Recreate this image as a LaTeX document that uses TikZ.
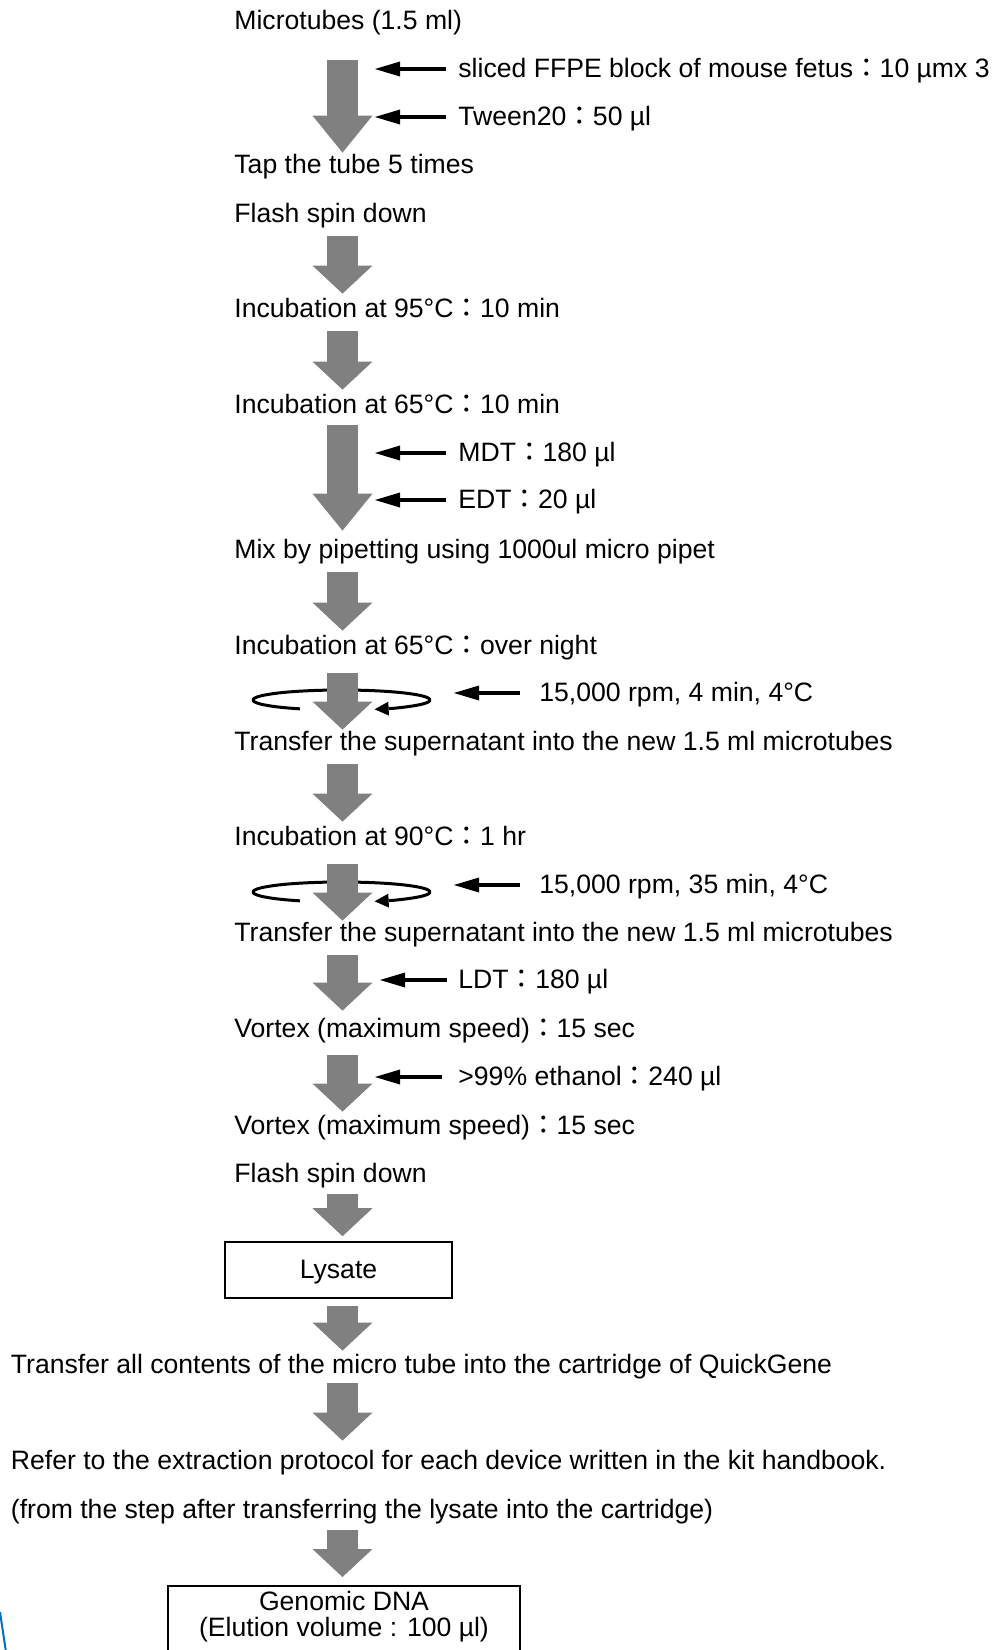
\documentclass[tikz,border=0pt]{standalone}
\usepackage{fontspec}
\setmainfont{Liberation Sans}
\newfontfamily\cjk{Noto Sans CJK JP}
\usetikzlibrary{arrows.meta}
\definecolor{flowgray}{HTML}{808080}
\definecolor{strayblue}{HTML}{0070C0}
\newcommand{\zc}{{\cjk ：}}

\tikzset{
	txt/.style = {anchor=west, inner sep=0pt, text height=10pt, text depth=2pt},
	flow/.style = {draw=flowgray, line width=15.5pt, shorten <=5pt, shorten >=1.5pt,
		-{Triangle[width=30pt, length=14pt, line width=0pt]}},
	flowlong/.style = {flow, -{Triangle[width=30pt, length=18.5pt, line width=0pt]}},
	feed/.style = {line width=2pt, shorten <=6pt,
		-{Triangle[width=7.5pt, length=12.5pt, line width=0pt]}},
	rotor/.style = {line width=1.5pt, -{Triangle[width=7pt, length=7pt, line width=0pt]}},
	outbox/.style = {draw, line width=0.8pt, inner sep=0pt}
}

\begin{document}
\begin{tikzpicture}[x=0.5pt, y=-0.5pt, font=\fontsize{13.3pt}{13pt}\selectfont]
	\useasboundingbox (0, 0) rectangle (992, 1650);
	\coordinate (col) at (342.5, 0);
	\coordinate (addx) at (375, 0);
	\coordinate (ldtx) at (380, 0);
	\coordinate (spinx) at (454, 0);
	\coordinate (rotora) at (341.5, 700);
	\coordinate (rotorb) at (341.5, 892);

	\node [txt] (micro) at (234, 21) {Microtubes (1.5 ml)};
	\node [txt] (tap) at (234, 165) {Tap the tube 5 times};
	\node [txt] (spina) at (234, 214) {Flash spin down};
	\node [txt] (inca) at (234, 309) {Incubation at 95°C\zc 10 min};
	\node [txt] (incb) at (234, 405) {Incubation at 65°C\zc 10 min};
	\node [txt] (mix) at (234, 550) {Mix by pipetting using 1000ul micro pipet};
	\node [txt] (incc) at (234, 646) {Incubation at 65°C\zc over night};
	\node [txt] (supa) at (234, 742) {Transfer the supernatant into the new 1.5 ml microtubes};
	\node [txt] (incd) at (234, 837) {Incubation at 90°C\zc 1 hr};
	\node [txt] (supb) at (234, 933) {Transfer the supernatant into the new 1.5 ml microtubes};
	\node [txt] (vorta) at (234, 1029) {Vortex (maximum speed)\zc 15 sec};
	\node [txt] (vortb) at (234, 1126) {Vortex (maximum speed)\zc 15 sec};
	\node [txt] (spinb) at (234, 1174) {Flash spin down};
	\node [outbox, minimum width=113.5pt, minimum height=28pt, text height=10pt, text depth=2pt] (lysate) at (338.5, 1270) {Lysate};
	\node [txt] (load) at (10.5, 1365) {Transfer all contents of the micro tube into the cartridge of QuickGene};
	\node [txt] (refer) at (10.5, 1461) {Refer to the extraction protocol for each device written in the kit handbook.};
	\node [txt] (refnote) at (10.5, 1510) {(from the step after transferring the lysate into the cartridge)};
	\node [outbox, anchor=north, minimum width=176pt, align=center, text height=25.25pt, text depth=8.25pt] (gdna) at (344, 1585) {Genomic DNA\\(Elution volume : 100 µl)};

	\node [txt] (ffpe) at (458, 69) {sliced FFPE block of mouse fetus\zc 10 µmx 3};
	\node [txt] (tween) at (458, 117) {Tween20\zc 50 µl};
	\node [txt] (mdt) at (458, 453) {MDT\zc 180 µl};
	\node [txt] (edt) at (458, 500) {EDT\zc 20 µl};
	\node [txt] (rpma) at (539, 693) {15,000 rpm, 4 min, 4°C};
	\node [txt] (rpmb) at (539, 885) {15,000 rpm, 35 min, 4°C};
	\node [txt] (ldt) at (458, 980) {LDT\zc 180 µl};
	\node [txt] (etoh) at (458, 1077) {>99\% ethanol\zc 240 µl};

	\draw [rotor] (rotora) ++(242:44.25pt and 5pt) arc [start angle=242, end angle=-68, x radius=44.25pt, y radius=5pt];
	\draw [rotor] (rotorb) ++(242:44.25pt and 5pt) arc [start angle=242, end angle=-68, x radius=44.25pt, y radius=5pt];

	\draw [flowlong, shorten <=13.5pt, shorten >=0pt] (micro.south -| col) -- (tap.north -| col);
	\draw [flow] (spina.south -| col) -- (inca.north -| col);
	\draw [flow] (inca.south -| col) -- (incb.north -| col);
	\draw [flowlong, shorten <=4pt, shorten >=3.5pt] (incb.south -| col) -- (mix.north -| col);
	\draw [flow] (mix.south -| col) -- (incc.north -| col);
	\draw [flow, shorten <=7.5pt, shorten >=0pt] (incc.south -| col) -- (supa.north -| col);
	\draw [flow] (supa.south -| col) -- (incd.north -| col);
	\draw [flow, shorten <=7.5pt, shorten >=0pt] (incd.south -| col) -- (supb.north -| col);
	\draw [flow, shorten >=3pt] (supb.south -| col) -- (vorta.north -| col);
	\draw [flow, shorten <=7pt, shorten >=1pt] (vorta.south -| col) -- (vortb.north -| col);
	\draw [flow, shorten <=4pt, shorten >=2.5pt] (spinb.south -| col) -- (lysate.north -| col);
	\draw [flow, shorten <=3.5pt, shorten >=1pt] (lysate.south -| col) -- (load.north -| col);
	\draw [flow, shorten <=3pt, shorten >=4pt] (load.south -| col) -- (refer.north -| col);
	\draw [flow, shorten <=4pt, shorten >=4pt] (refnote.south -| col) -- (gdna.north -| col);

	\draw [feed] (ffpe.west) -- (ffpe.west -| addx);
	\draw [feed] (tween.west) -- (tween.west -| addx);
	\draw [feed] (mdt.west) -- (mdt.west -| addx);
	\draw [feed] (edt.west) -- (edt.west -| addx);
	\draw [feed, shorten <=9.5pt] (rpma.west) -- (rpma.west -| spinx);
	\draw [feed, shorten <=9.5pt] (rpmb.west) -- (rpmb.west -| spinx);
	\draw [feed, shorten <=5.5pt] (ldt.west) -- (ldt.west -| ldtx);
	\draw [feed, shorten <=8pt] (etoh.west) -- (etoh.west -| addx);

	\draw [strayblue, line width=1pt] (0, 1612) -- (6, 1652);
\end{tikzpicture}
\end{document}
